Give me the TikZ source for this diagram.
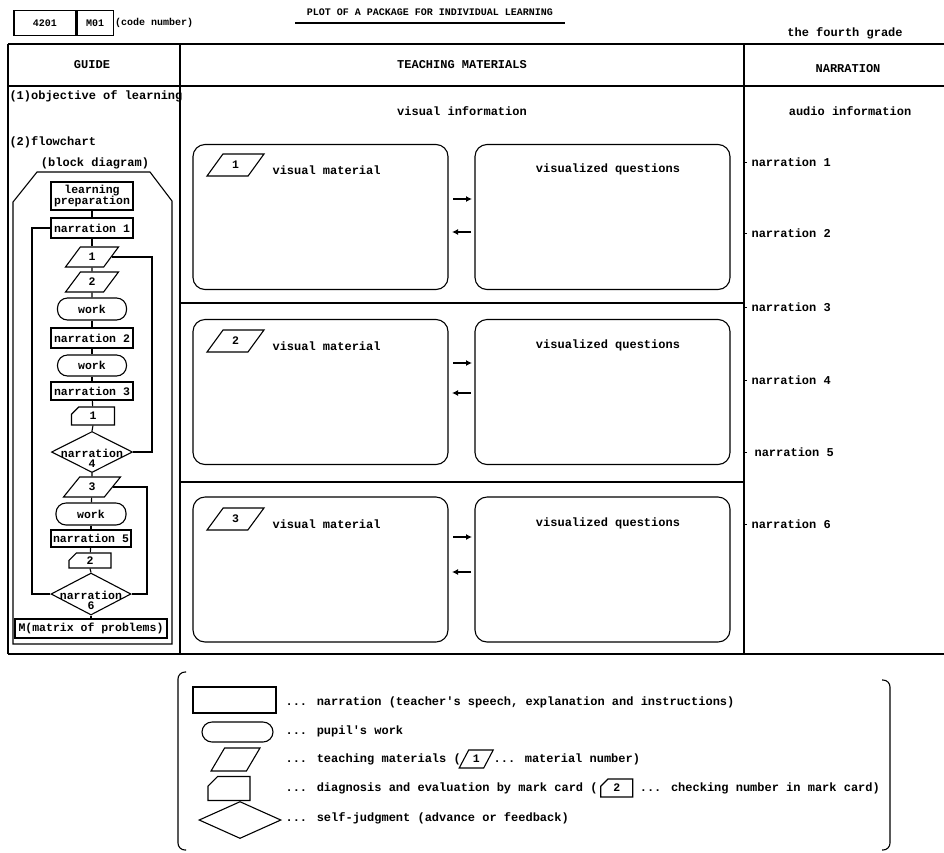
\documentclass[tikz,border=0pt]{standalone}
\usepackage{fontspec}
\setmainfont{Liberation Mono}
\usetikzlibrary{shapes.geometric,shapes.misc,arrows.meta}
\begin{document}
\begin{tikzpicture}[x=1pt,y=-1pt,line width=1.1pt,
  font=\bfseries\fontsize{12}{13}\selectfont,
  txt/.style={inner sep=0pt},
  small/.style={font=\bfseries\fontsize{10}{11}\selectfont},
  fc/.style={font=\bfseries\fontsize{11.5}{12}\selectfont},
  nbox/.style={draw,fc,inner sep=0pt,minimum width=82pt,minimum height=20pt},
  workbox/.style={draw,fc,rounded corners=10pt,inner sep=0pt,minimum width=69pt,minimum height=21pt},
  parabox/.style={draw,fc,trapezium,trapezium left angle=60,trapezium right angle=120,
     trapezium stretches=true,inner sep=0pt,minimum width=53pt,minimum height=20pt},
  cardbox/.style={draw,fc,chamfered rectangle,chamfered rectangle corners=north west,
     chamfered rectangle xsep=6pt,chamfered rectangle ysep=6pt,inner sep=0pt,minimum width=43pt,minimum height=18pt},
  dia/.style={draw,diamond,inner sep=0pt,minimum width=81pt,minimum height=41pt},
  bigbox/.style={draw,rounded corners=12pt,minimum width=255pt,minimum height=145pt,inner sep=0pt},
  arr/.style={-{Latex[length=6pt,width=6pt]},line width=1.3pt}]
\useasboundingbox (0,0) rectangle (944,852);

% header
\node[draw,small,minimum width=62pt,minimum height=25pt,inner sep=0pt] (c4201) at (45,23) {4201};
\node[draw,small,minimum width=36pt,minimum height=25pt,inner sep=0pt,anchor=west] (cm01) at (c4201.east) {M01};
\node[txt,small,anchor=west] (codenum) at ([xshift=1pt]cm01.east) {(code number)};
\node[txt,small] (title) at (430,12) {PLOT OF A PACKAGE FOR INDIVIDUAL LEARNING};
\draw (295,23) -- (565,23);
\node[txt] (grade) at (845,33) {the fourth grade};

% table
\draw (8,44) -- (944,44);
\draw (8,86) -- (944,86);
\draw (8,654) -- (944,654);
\draw (8,44) -- (8,654);
\draw (180,44) -- (180,654);
\draw (744,44) -- (744,654);
\draw (180,303) -- (744,303);
\draw (180,482) -- (744,482);

\node[txt] (hguide) at (92,65) {GUIDE};
\node[txt] (hteach) at (462,65) {TEACHING MATERIALS};
\node[txt] (hnarr) at (848,69) {NARRATION};
\node[txt] (visinfo) at (462,111) {visual information};
\node[txt] (audinfo) at (850,111) {audio information};
\node[txt,anchor=west] (obj) at (9,96) {(1)objective of learning};
\node[txt,anchor=west] (flow) at (9,142) {(2)flowchart};
\node[txt] (blockd) at (95,163) {(block diagram)};

% narration column
\foreach \y/\t/\xx in {162/1/751,233/2/751,307/3/751,380/4/751,452/5/754,524/6/751}{
  \draw[line width=0.8pt] (744,\y) -- (747,\y);
  \node[txt,anchor=west] (narr\t) at (\xx,\y) {narration \t};
}

% flowchart boundary
\draw (13,644) -- (13,202) -- (37,172) -- (150,172) -- (172,201) -- (172,644) -- cycle;

% flowchart nodes
\node[nbox,minimum height=28pt,align=center] (lp) at (92,196) {learning\\[-1pt]preparation};
\node[nbox] (n1) at (92,228) {narration 1};
\node[parabox] (p1) at (92,257) {1};
\node[parabox] (p2) at (92,282) {2};
\node[workbox,minimum height=22pt] (w1) at (92,309) {work};
\node[nbox] (n2) at (92,338) {narration 2};
\node[workbox] (w2) at (92,365.5) {work};
\node[nbox,minimum height=18pt] (n3) at (92,391) {narration 3};
\node[cardbox] (c1) at (93,416) {1};
\node[dia] (d4) at (92,452) {};
\node[txt,fc,align=center] (d4t) at (92,458) {narration\\[-2pt]4};
\node[parabox,minimum width=57pt] (p3) at (92,487) {3};
\node[workbox,minimum width=70pt,minimum height=22pt] (w3) at (91,514) {work};
\node[nbox,minimum width=80pt,minimum height=17pt] (n5) at (91,538.5) {narration 5};
\node[cardbox,minimum width=42pt,minimum height=15pt] (c2) at (90,560.5) {2};
\node[dia,minimum width=80pt,minimum height=42pt] (d6) at (91,594) {};
\node[txt,fc,align=center] (d6t) at (91,600) {narration\\[-2pt]6};
\node[nbox,minimum width=152pt,minimum height=19pt] (mbox) at (91,628.5) {M(matrix of problems)};

\draw (lp) -- (n1);
\draw (n1) -- (p1);
\draw (p1) -- (p2);
\draw (p2) -- (w1);
\draw (w1) -- (n2);
\draw (n2) -- (w2);
\draw (w2) -- (n3);
\draw (n3) -- (c1);
\draw (c1.south) -- (d4.north);
\draw (d4.south) -- (p3.north);
\draw (p3) -- (w3);
\draw (w3) -- (n5);
\draw (n5) -- (c2);
\draw (c2.south) -- (d6.north);
\draw (d6.south) -- (mbox.north);

\coordinate (lx) at (32,0);
\coordinate (rx1) at (152,0);
\coordinate (rx2) at (147,0);
\draw (n1.west) -- (n1.west -| lx) |- (d6.west);
\draw (p1.east) -- (p1.east -| rx1) |- (d4.east);
\draw (p3.east) -- (p3.east -| rx2) |- (d6.east);

% teaching materials boxes
\foreach \r/\cy/\py in {1/217/165,2/392/341,3/569.5/519}{
  \node[bigbox] (vm\r) at (320.5,\cy) {};
  \node[bigbox] (vq\r) at (602.5,\cy) {};
  \node[parabox,minimum width=57pt,minimum height=22pt] (vp\r) at (235.5,\py) {\r};
  \node[txt,anchor=west] (vt\r) at (272,\py+5) {visual material};
  \node[txt] (qt\r) at (608,\py+4) {visualized questions};
}
\coordinate (a1s) at (453,199); \coordinate (a1e) at (472,199);
\coordinate (b1s) at (471,232); \coordinate (b1e) at (452,232);
\coordinate (a2s) at (453,363); \coordinate (a2e) at (472,363);
\coordinate (b2s) at (471,393); \coordinate (b2e) at (452,393);
\coordinate (a3s) at (453,537); \coordinate (a3e) at (472,537);
\coordinate (b3s) at (471,572); \coordinate (b3e) at (452,572);
\draw[arr] (a1s) -- (a1e);
\draw[arr] (b1s) -- (b1e);
\draw[arr] (a2s) -- (a2e);
\draw[arr] (b2s) -- (b2e);
\draw[arr] (a3s) -- (a3e);
\draw[arr] (b3s) -- (b3e);

% legend
\draw[rounded corners=7pt] (186,672) -- (178,672) -- (178,850) -- (186,850);
\draw[rounded corners=7pt] (882,680) -- (890,680) -- (890,850) -- (882,850);
\node[draw,minimum width=83pt,minimum height=26pt,inner sep=0pt] (lg1) at (234.5,700) {};
\node[draw,rounded corners=10pt,minimum width=71pt,minimum height=20pt,inner sep=0pt] (lg2) at (237.5,732) {};
\node[draw,trapezium,trapezium left angle=60,trapezium right angle=120,trapezium stretches=true,
  minimum width=49pt,minimum height=23pt,inner sep=1pt] (lg3) at (235.5,759.5) {\phantom{1}};
\node[draw,chamfered rectangle,chamfered rectangle corners=north west,chamfered rectangle xsep=9pt,
  chamfered rectangle ysep=9pt,minimum width=42pt,minimum height=24pt,inner sep=1pt] (lg4) at (229,788.5) {\phantom{1}};
\node[draw,diamond,minimum width=82pt,minimum height=37pt,inner sep=1pt] (lg5) at (240,820) {};

\node[txt,anchor=west] (lt1) at (285,702) {... narration (teacher\textquotesingle s speech, explanation and instructions)};
\node[txt,anchor=west] (lt2) at (285,731) {... pupil\textquotesingle s work};
\node[txt,anchor=west] (lt3a) at (285,759) {... teaching materials (};
\node[parabox,minimum width=34pt,minimum height=18pt,anchor=west] (lt3p) at ([xshift=2pt]lt3a.east) {1};
\node[txt,anchor=west] (lt3b) at ([xshift=4pt]lt3p.east) {... material number)};
\node[txt,anchor=west] (lt4a) at (285,788) {... diagnosis and evaluation by mark card (};
\node[cardbox,minimum width=32pt,minimum height=18pt,anchor=west] (lt4c) at ([xshift=2pt]lt4a.east) {2};
\node[txt,anchor=west] (lt4b) at ([xshift=6pt]lt4c.east) {... checking number in mark card)};
\node[txt,anchor=west] (lt5) at (285,818) {... self-judgment (advance or feedback)};
\end{tikzpicture}
\end{document}
